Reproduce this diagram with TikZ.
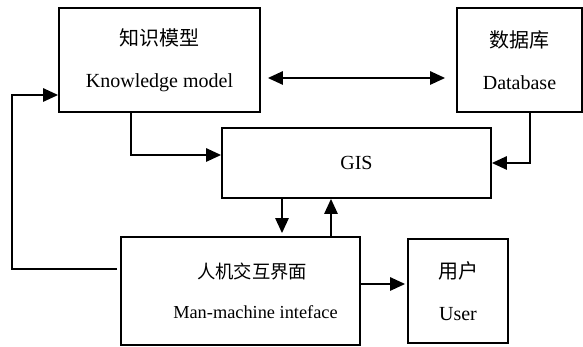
\documentclass[tikz,border=0pt]{standalone}
\usepackage{fontspec}
\setmainfont{Liberation Serif}
\newfontfamily\cjk{Noto Sans CJK SC}
\usetikzlibrary{arrows.meta,calc}
\tikzset{
  box/.style={draw=black, line width=1.1pt, align=center, inner sep=0pt,
              font={\fontsize{12}{25}\selectfont}},
  arr/.style={-{Triangle[length=9pt, width=8pt]}, line width=1.1pt},
  dblarr/.style={{Triangle[length=9pt, width=8pt]}-{Triangle[length=9pt, width=8pt]}, line width=1.1pt},
}

\begin{document}
\begin{tikzpicture}[x=0.6pt, y=-0.6pt]
\useasboundingbox (0,0) rectangle (583,347);

% --- top row ---
\node[box, minimum width=120.6pt, minimum height=62.4pt] (km) at (159.5,60) {{\cjk 知识模型}\\Knowledge model};
\node[box, minimum width=75pt, minimum height=62.4pt] (db) at (519.5,60) {{\cjk 数据库}\\Database};

% --- middle ---
\node[box, minimum width=161.4pt, minimum height=42pt] (gis) at (356.5,163) {GIS};

% --- bottom row ---
\node[box, minimum width=143.4pt, minimum height=64.8pt, font={\fontsize{11}{24}\selectfont}] (man) at (240.5,291)
  {\hspace*{14pt}{\cjk 人机交互界面}\\\hspace*{18pt}Man-machine inteface};
\node[box, minimum width=60pt, minimum height=62.4pt] (user) at (458,291) {{\cjk 用户}\\User};

% helper points
\coordinate (kmr) at ($(km.east)+(7,18)$);
\coordinate (dbl) at ($(db.west)+(-11,18)$);
\coordinate (kmd) at ($(km.south)+(-28.5,0)$);
\coordinate (gisl) at ($(gis.west)+(0,-8)$);
\coordinate (dbd) at ($(db.south)+(10.5,0)$);
\coordinate (gisdn) at ($(gis.south)+(-74.5,0)$);
\coordinate (manup) at ($(man.north)+(90.5,0)$);
\coordinate (manr) at ($(man.east)+(0,-7)$);
\coordinate (manl) at ($(man.west)+(-3,-22)$);
\coordinate (kml) at ($(km.west)+(0,35)$);
\coordinate (fb) at (12,95);

% --- connectors ---
\draw[dblarr] (kmr) -- (dbl);
\draw[arr] (kmd) |- (gisl);
\draw[arr] (dbd) |- (gis.east);
\draw[arr] (gisdn) -- ($(gisdn |- man.north)+(0,-3)$);
\draw[arr] (manup) -- (manup |- gis.south);
\draw[arr] (manr) -- ($(manr -| user.west)+(-2,0)$);
\draw[arr] (manl) -| (fb) -- (kml);

\end{tikzpicture}
\end{document}
